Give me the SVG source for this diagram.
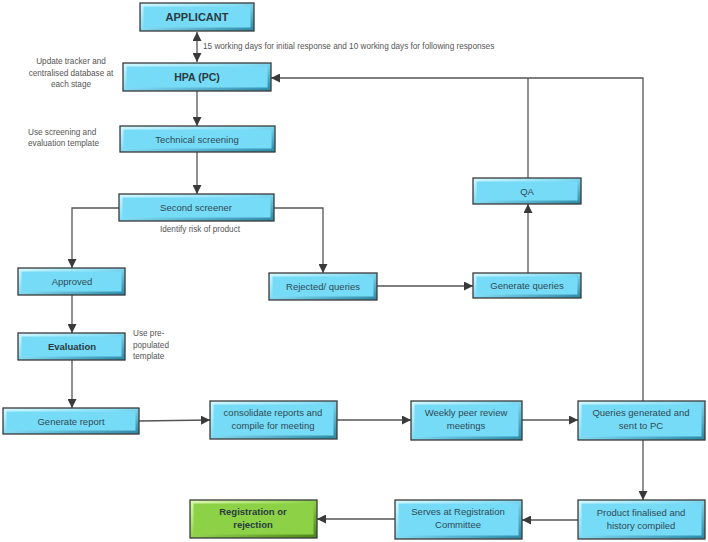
<svg xmlns="http://www.w3.org/2000/svg" width="708" height="542" viewBox="0 0 708 542">
<style>
.outer{fill:url(#bev);stroke:#3a3a3a;stroke-width:1.3}
.inner{fill:#76dbf6}
.gouter{fill:url(#gbev);stroke:#3a3a3a;stroke-width:1.3}
.ginner{fill:#8dd246}
.t{font-family:"Liberation Sans",Arial,sans-serif;font-size:9.5px;fill:#2f4a55;text-anchor:middle}
.tb{font-family:"Liberation Sans",Arial,sans-serif;font-weight:bold;fill:#2a3a40;text-anchor:middle}
.note{font-family:"Liberation Sans",Arial,sans-serif;font-size:8.2px;fill:#555}
.c{fill:none;stroke:#555;stroke-width:1.3}
</style>
<defs>
<linearGradient id="bev" x1="0" y1="0" x2="1" y2="1">
<stop offset="0" stop-color="#d4f8fe"/><stop offset="0.45" stop-color="#86def6"/><stop offset="1" stop-color="#2a86a4"/>
</linearGradient>
<linearGradient id="gbev" x1="0" y1="0" x2="1" y2="1">
<stop offset="0" stop-color="#ddf9b2"/><stop offset="0.45" stop-color="#96d852"/><stop offset="1" stop-color="#4a8318"/>
</linearGradient>
<marker id="ah" markerUnits="userSpaceOnUse" markerWidth="9" markerHeight="9" refX="9" refY="4.5" orient="auto-start-reverse" viewBox="0 0 9 9">
<path d="M0,0 L9,4.5 L0,9 z" fill="#3a3a3a"/>
</marker>
</defs>
<rect width="708" height="542" fill="#fff"/>

<g id="connectors">
<path class="c" d="M197,32 V62" marker-start="url(#ah)" marker-end="url(#ah)"/>
<path class="c" d="M197,91 V126" marker-end="url(#ah)"/>
<path class="c" d="M197,152 V194" marker-end="url(#ah)"/>
<path class="c" d="M119,208 H72 V268" marker-end="url(#ah)"/>
<path class="c" d="M274,208 H323 V273" marker-end="url(#ah)"/>
<path class="c" d="M72,295 V333" marker-end="url(#ah)"/>
<path class="c" d="M377,286 H473" marker-end="url(#ah)"/>
<path class="c" d="M528,273 V204" marker-end="url(#ah)"/>
<path class="c" d="M528,178 V78"/>
<path class="c" d="M643,401 V78 H271" marker-end="url(#ah)"/>
<path class="c" d="M72,360 V408" marker-end="url(#ah)"/>
<path class="c" d="M139,421 L210,420" marker-end="url(#ah)"/>
<path class="c" d="M337,420 H411" marker-end="url(#ah)"/>
<path class="c" d="M522,420 H578" marker-end="url(#ah)"/>
<path class="c" d="M643,440 V500" marker-end="url(#ah)"/>
<path class="c" d="M578,520 H522" marker-end="url(#ah)"/>
<path class="c" d="M395,519 H317" marker-end="url(#ah)"/>
</g>

<g id="applicant">
<rect class="outer" x="140" y="3" width="114" height="28"/><rect class="inner" x="143.5" y="6.5" width="107" height="21"/>
<text class="tb" x="197" y="21" font-size="11">APPLICANT</text>
</g>
<g id="hpa">
<rect class="outer" x="123" y="63" width="148" height="28"/><rect class="inner" x="126.5" y="66.5" width="141" height="21"/>
<text class="tb" x="197" y="81" font-size="10.5">HPA (PC)</text>
</g>
<g id="technical">
<rect class="outer" x="120" y="126" width="155" height="26"/><rect class="inner" x="123.5" y="129.5" width="148" height="19"/>
<text class="t" x="197" y="142.5">Technical screening</text>
</g>
<g id="second">
<rect class="outer" x="119" y="194" width="155" height="27"/><rect class="inner" x="122.5" y="197.5" width="148" height="20"/>
<text class="t" x="196" y="210.5">Second screener</text>
</g>
<g id="approved">
<rect class="outer" x="18" y="268" width="107" height="27"/><rect class="inner" x="21.5" y="271.5" width="100" height="20"/>
<text class="t" x="72" y="284.5">Approved</text>
</g>
<g id="rejected">
<rect class="outer" x="269" y="273" width="108" height="27"/><rect class="inner" x="272.5" y="276.5" width="101" height="20"/>
<text class="t" x="323" y="289.5">Rejected/ queries</text>
</g>
<g id="evaluation">
<rect class="outer" x="18" y="333" width="107" height="27"/><rect class="inner" x="21.5" y="336.5" width="100" height="20"/>
<text class="tb" x="72" y="349.5" font-size="9.5">Evaluation</text>
</g>
<g id="qa">
<rect class="outer" x="473" y="178" width="108" height="26"/><rect class="inner" x="476.5" y="181.5" width="101" height="19"/>
<text class="t" x="527" y="194.5">QA</text>
</g>
<g id="genqueries">
<rect class="outer" x="473" y="273" width="108" height="25"/><rect class="inner" x="476.5" y="276.5" width="101" height="18"/>
<text class="t" x="527" y="289">Generate queries</text>
</g>
<g id="genreport">
<rect class="outer" x="3" y="408" width="136" height="26"/><rect class="inner" x="6.5" y="411.5" width="129" height="19"/>
<text class="t" x="71" y="424.5">Generate report</text>
</g>
<g id="consolidate">
<rect class="outer" x="210" y="401" width="127" height="38"/><rect class="inner" x="213.5" y="404.5" width="120" height="31"/>
<text class="t" x="273" y="416">consolidate reports and</text>
<text class="t" x="273" y="428.5">compile for meeting</text>
</g>
<g id="weekly">
<rect class="outer" x="411" y="401" width="111" height="39"/><rect class="inner" x="414.5" y="404.5" width="104" height="32"/>
<text class="t" x="466" y="416">Weekly peer review</text>
<text class="t" x="466" y="428.5">meetings</text>
</g>
<g id="queriesgen">
<rect class="outer" x="578" y="401" width="127" height="39"/><rect class="inner" x="581.5" y="404.5" width="120" height="32"/>
<text class="t" x="641" y="416">Queries generated and</text>
<text class="t" x="641" y="428.5">sent to PC</text>
</g>
<g id="product">
<rect class="outer" x="578" y="500" width="127" height="39"/><rect class="inner" x="581.5" y="503.5" width="120" height="32"/>
<text class="t" x="641" y="516">Product finalised and</text>
<text class="t" x="641" y="528.5">history compiled</text>
</g>
<g id="serves">
<rect class="outer" x="395" y="500" width="127" height="39"/><rect class="inner" x="398.5" y="503.5" width="120" height="32"/>
<text class="t" x="458" y="515">Serves at Registration</text>
<text class="t" x="458" y="527.5">Committee</text>
</g>
<g id="registration">
<rect class="gouter" x="190" y="500" width="127" height="38"/><rect class="ginner" x="193.5" y="503.5" width="120" height="31"/>
<text class="tb" x="253" y="515" font-size="9.5">Registration or</text>
<text class="tb" x="253" y="527.5" font-size="9.5">rejection</text>
</g>

<g id="notes">
<text class="note" x="203" y="49">15 working days for initial response and 10 working days for following responses</text>
<text class="note" x="71" y="64" text-anchor="middle">Update tracker and</text>
<text class="note" x="71" y="75.5" text-anchor="middle">centralised database at</text>
<text class="note" x="71" y="87" text-anchor="middle">each stage</text>
<text class="note" x="28" y="134.5">Use screening and</text>
<text class="note" x="28" y="146">evaluation template</text>
<text class="note" x="200" y="232" text-anchor="middle">Identify risk of product</text>
<text class="note" x="133" y="336">Use pre-</text>
<text class="note" x="133" y="347.5">populated</text>
<text class="note" x="133" y="359">template</text>
</g>
</svg>
